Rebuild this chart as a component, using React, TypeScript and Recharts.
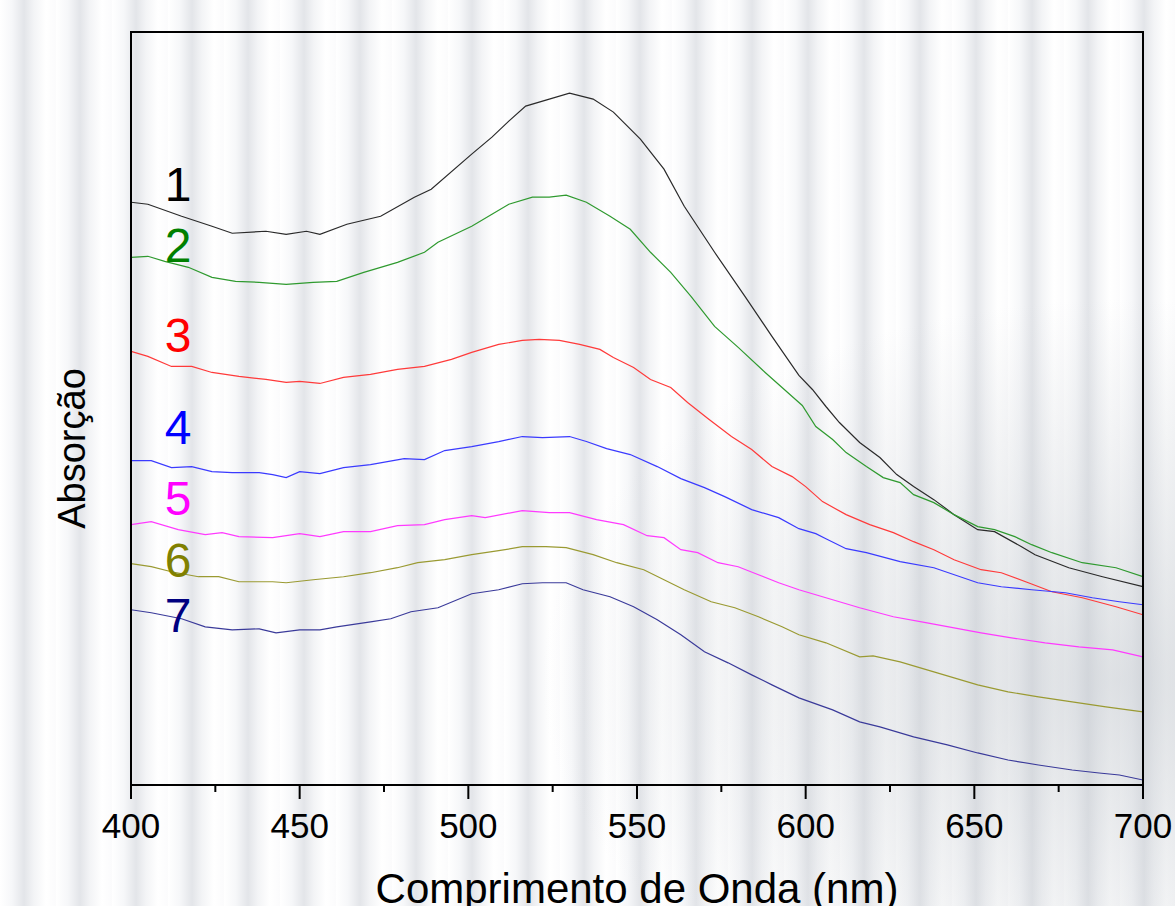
import React from 'react';
import { LineChart, Line, XAxis, YAxis, ReferenceDot, ReferenceArea } from 'recharts';

// Wavelength (nm) and absorption (arbitrary units)
const curve1: [number, number][] = [
  [400, 582], [405, 580], [415, 568], [424, 558], [430, 551], [440, 553], [446, 550], [452, 553], [456, 550],
  [464, 560], [474, 568], [484, 587], [489, 595], [501, 630], [507, 647], [512, 663], [517, 678], [523, 684],
  [530, 691], [537, 685], [543, 672], [551, 645], [558, 615], [564, 578], [573, 532], [582, 488], [590, 448],
  [598, 409], [602, 395], [606, 378], [610, 362], [616, 342], [622, 327], [627, 310], [632, 298], [638, 285],
  [644, 270], [651, 255], [656, 253], [664, 238], [668, 230], [678, 217], [688, 208], [700, 198],
];
const curve2: [number, number][] = [
  [400, 527], [405, 528], [410, 523], [417, 517], [424, 507], [431, 503], [438, 502], [446, 500], [454, 502],
  [461, 503], [469, 512], [479, 522], [487, 532], [491, 542], [501, 558], [507, 570], [512, 580], [519, 587],
  [524, 587], [529, 589], [535, 582], [542, 568], [548, 555], [554, 532], [560, 512], [566, 488], [573, 458],
  [580, 437], [588, 412], [596, 388], [599, 379], [603, 358], [608, 345], [612, 332], [618, 318], [623, 307],
  [628, 302], [632, 290], [638, 282], [644, 270], [651, 258], [656, 255], [662, 248], [667, 240], [673, 232],
  [682, 222], [692, 217], [700, 208],
];
const curve3: [number, number][] = [
  [400, 433], [405, 428], [412, 418], [418, 418], [424, 412], [432, 408], [440, 405], [446, 402], [450, 403],
  [456, 401], [463, 407], [471, 410], [479, 415], [487, 418], [495, 425], [501, 432], [509, 440], [516, 444],
  [521, 445], [527, 444], [533, 440], [539, 435], [543, 427], [549, 417], [554, 405], [560, 397], [565, 382],
  [571, 366], [578, 348], [584, 335], [590, 318], [596, 308], [600, 298], [605, 283], [612, 270], [619, 260],
  [626, 252], [632, 243], [638, 235], [644, 225], [652, 215], [658, 212], [666, 202], [673, 193], [682, 187],
  [692, 178], [700, 170],
];
const curve4: [number, number][] = [
  [400, 324], [406, 324], [412, 317], [418, 318], [424, 313], [430, 312], [438, 312], [442, 310], [446, 307],
  [450, 313], [456, 311], [463, 317], [471, 320], [481, 326], [487, 325], [493, 334], [501, 338], [509, 343],
  [516, 348], [522, 347], [530, 348], [535, 343], [541, 336], [548, 330], [556, 318], [563, 306], [570, 297],
  [576, 288], [584, 275], [592, 267], [598, 256], [603, 251], [606, 246], [612, 236], [618, 232], [628, 223],
  [638, 217], [651, 202], [658, 198], [667, 195], [677, 192], [685, 187], [693, 183], [700, 180],
];
const curve5: [number, number][] = [
  [400, 260], [406, 263], [414, 255], [422, 250], [427, 252], [432, 248], [442, 247], [450, 251], [456, 248],
  [463, 253], [471, 253], [479, 259], [487, 260], [493, 265], [501, 269], [505, 267], [516, 274], [524, 272],
  [530, 272], [538, 265], [546, 260], [553, 249], [558, 247], [563, 235], [568, 232], [574, 222], [580, 218],
  [586, 210], [592, 202], [598, 195], [608, 185], [616, 177], [626, 168], [636, 162], [644, 157], [652, 152],
  [661, 147], [671, 142], [681, 138], [691, 135], [700, 128],
];
const curve6: [number, number][] = [
  [400, 221], [406, 218], [412, 213], [420, 208], [426, 208], [432, 203], [442, 203], [446, 202], [454, 205],
  [463, 208], [471, 212], [479, 217], [485, 222], [493, 225], [501, 230], [509, 234], [516, 238], [523, 238],
  [529, 237], [537, 230], [544, 222], [552, 215], [558, 205], [564, 195], [572, 183], [579, 177], [586, 168],
  [593, 158], [598, 150], [606, 142], [616, 128], [620, 129], [628, 123], [638, 113], [651, 100], [660, 93],
  [669, 88], [679, 83], [689, 78], [700, 73],
];
const curve7: [number, number][] = [
  [400, 175], [406, 172], [415, 166], [422, 158], [430, 155], [438, 156], [443, 152], [450, 155], [456, 155],
  [461, 158], [471, 163], [477, 166], [483, 173], [491, 177], [501, 191], [509, 195], [516, 201], [522, 202],
  [529, 202], [534, 195], [542, 188], [549, 178], [556, 165], [563, 150], [570, 133], [577, 122], [584, 110],
  [590, 100], [598, 87], [608, 75], [616, 63], [622, 58], [632, 48], [642, 40], [651, 32], [660, 25],
  [669, 20], [679, 15], [687, 12], [693, 10], [700, 5],
];

const seriesNames = ['1', '2', '3', '4', '5', '6', '7'];
const seriesCurves = [curve1, curve2, curve3, curve4, curve5, curve6, curve7];
const lineColors = ['#2a2a2a', '#2f9a2f', '#ff3a3a', '#3a3aff', '#ff3aff', '#9a9a32', '#3a3a9a'];
const labelColors = ['#000000', '#008000', '#ff0000', '#0000ff', '#ff00ff', '#808000', '#000080'];
// label anchor positions (nm, absorption) for the curve numbers
const labelX = [414, 414, 414, 414, 414, 414, 414];
const labelY = [583, 522, 432, 340, 270, 208, 153];

const xTicks = [400, 425, 450, 475, 500, 525, 550, 575, 600, 625, 650, 675, 700];
const xMajor = [400, 450, 500, 550, 600, 650, 700];

const FONT = '"Liberation Sans", Arial, Helvetica, sans-serif';

const BottomTick = (props: any) => {
  const { x, y, payload } = props;
  const major = xMajor.includes(payload.value);
  return (
    <g>
      <line x1={x} x2={x} y1={y} y2={y + (major ? 14 : 7)} stroke="#000" strokeWidth={2} />
      {major && (
        <text x={x} y={y + 53} textAnchor="middle" fontSize={35} fontFamily={FONT} fill="#000">
          {payload.value}
        </text>
      )}
    </g>
  );
};

const XTitle = (props: any) => {
  const vb = props.viewBox;
  return (
    <text x={vb.x + vb.width / 2} y={vb.y + 118} textAnchor="middle" fontSize={42} fontFamily={FONT} fill="#000">
      Comprimento de Onda (nm)
    </text>
  );
};

const YTitle = (props: any) => {
  const vb = props.viewBox;
  const cx = vb.x - 55;
  const cy = vb.y + vb.height / 2 + 40;
  return (
    <text
      x={cx}
      y={cy}
      transform={`rotate(-90 ${cx} ${cy})`}
      textAnchor="middle"
      dominantBaseline="middle"
      fontSize={38}
      fontFamily={FONT}
      fill="#000"
    >
      Absorção
    </text>
  );
};

export default function App() {
  const bg =
    'radial-gradient(ellipse 70% 60% at 95% 75%, rgba(195,200,206,0.55), rgba(255,255,255,0) 70%),' +
    'repeating-linear-gradient(90deg, #ffffff 0px, #f6f7f9 12px, #e3e5e9 24px, #f3f4f6 34px, #ffffff 46px, #fbfbfc 56px)';
  return (
    <div style={{ position: 'absolute', left: 0, top: 0, width: 1175, height: 906, background: bg }}>
      <LineChart width={1175} height={906} margin={{ top: 32, right: 31, bottom: 0, left: 130 }}>
        <XAxis
          xAxisId="bottom"
          type="number"
          dataKey="0"
          domain={[400, 700]}
          ticks={xTicks}
          interval={0}
          allowDataOverflow
          height={121}
          tickSize={0}
          tickMargin={0}
          tickLine={false}
          tick={<BottomTick />}
          axisLine={{ stroke: '#000', strokeWidth: 2 }}
          label={<XTitle />}
        />
        <XAxis
          xAxisId="top"
          orientation="top"
          type="number"
          domain={[400, 700]}
          ticks={xTicks}
          interval={0}
          height={1}
          mirror
          tickSize={4}
          tick={false}
          tickLine={{ stroke: '#000', strokeWidth: 1.5 }}
          axisLine={{ stroke: '#000', strokeWidth: 2 }}
        />
        <YAxis
          yAxisId="left"
          type="number"
          domain={[0, 752]}
          width={1}
          tick={false}
          tickLine={false}
          axisLine={{ stroke: '#000', strokeWidth: 2 }}
          label={<YTitle />}
        />
        <YAxis
          yAxisId="right"
          orientation="right"
          type="number"
          domain={[0, 752]}
          width={1}
          tick={false}
          tickLine={false}
          axisLine={{ stroke: '#000', strokeWidth: 2 }}
        />
        <ReferenceArea
          xAxisId="bottom"
          yAxisId="left"
          x1={400}
          x2={700}
          y1={0}
          y2={752}
          fill="none"
          fillOpacity={0}
          stroke="#000"
          strokeWidth={2}
          ifOverflow="visible"
        />
        {seriesCurves.map((c, i) => (
          <Line
            key={seriesNames[i]}
            xAxisId="bottom"
            yAxisId="left"
            data={c}
            dataKey="1"
            type="linear"
            stroke={lineColors[i]}
            strokeWidth={1.2}
            dot={false}
            activeDot={false}
            isAnimationActive={false}
          />
        ))}
        {seriesNames.map((n, i) => (
          <ReferenceDot
            key={'lbl' + n}
            xAxisId="bottom"
            yAxisId="left"
            x={labelX[i]}
            y={labelY[i]}
            r={0.1}
            fill="none"
            stroke="none"
            label={(p: any) => (
              <text
                x={p.viewBox.x}
                y={p.viewBox.y}
                textAnchor="middle"
                fontSize={48}
                fontFamily={FONT}
                fill={labelColors[i]}
              >
                {n}
              </text>
            )}
          />
        ))}
      </LineChart>
    </div>
  );
}
